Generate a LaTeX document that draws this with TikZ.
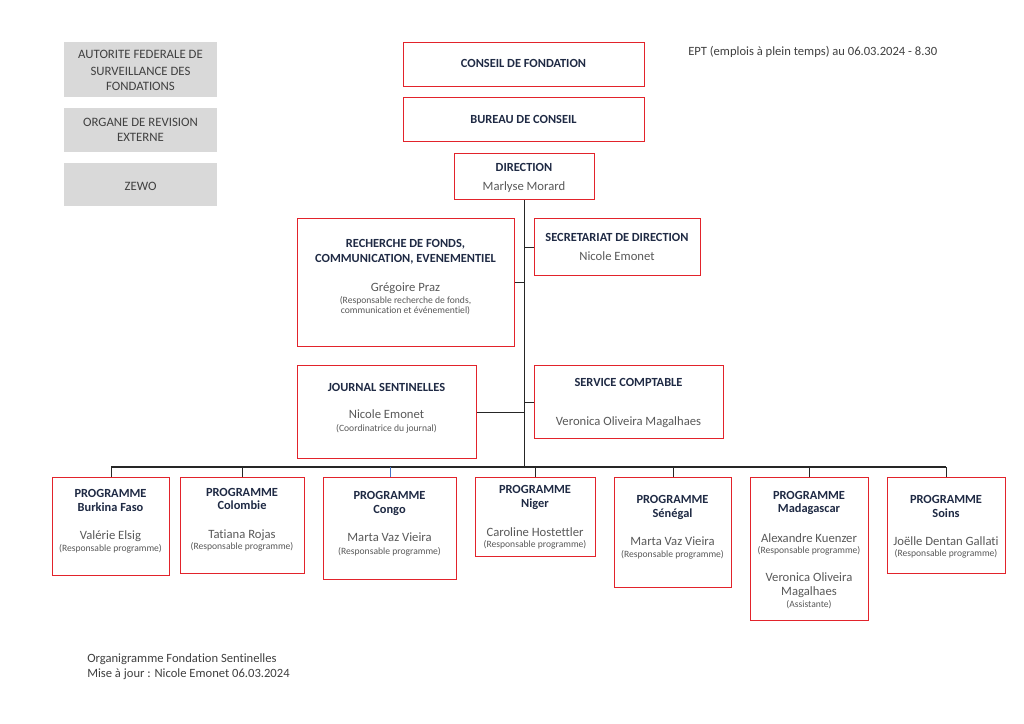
\documentclass[tikz,border=0pt]{standalone}
\usepackage{fontspec}
\setmainfont{Carlito}[Ligatures=NoCommon]
\definecolor{redb}{RGB}{226,35,43}
\definecolor{navy}{RGB}{31,42,68}
\definecolor{greyt}{RGB}{89,89,89}
\definecolor{greyf}{RGB}{217,217,217}
\definecolor{greyd}{RGB}{64,64,64}
\definecolor{bluel}{RGB}{68,114,196}
\newcommand{\rbox}[6]{\node[#6,anchor=north west,minimum width={(#4-#2)*0.75pt},minimum height={(#5-#3)*0.75pt}] (#1) at (#2,#3) {};}
\newcommand{\tx}[5]{\node[#2] (#1) at (#3,#4) {#5};}
\begin{document}
\begin{tikzpicture}[x=0.75pt,y=-0.75pt,
  redbox/.style={draw=redb,line width=1.1pt,fill=white,inner sep=0pt},
  greybox/.style={fill=greyf,draw=none,inner sep=0pt},
  hd/.style={font=\fontsize{9.3}{10}\selectfont\bfseries,text=navy,inner sep=0pt,anchor=base,yshift=-3pt},
  nm/.style={font=\fontsize{9.5}{10}\selectfont,text=greyt,inner sep=0pt,anchor=base,yshift=-3pt},
  sm/.style={font=\fontsize{7.2}{8}\selectfont,text=greyt,inner sep=0pt,anchor=base,yshift=-2.25pt},
  gr/.style={font=\fontsize{9.6}{10}\selectfont,text=greyd,inner sep=0pt,anchor=base,yshift=-3pt},
  pl/.style={font=\fontsize{9.45}{10}\selectfont,text=greyd,inner sep=0pt,anchor=base west,yshift=-3pt},
  conn/.style={draw=black!85,line width=0.9pt}]
\useasboundingbox[fill=white] (0,0) rectangle (1024,724);

% grey boxes
\rbox{g1}{64}{42}{217}{97}{greybox}
\rbox{g2}{64}{108}{217}{152}{greybox}
\rbox{g3}{64}{163}{217}{206}{greybox}
\tx{g1a}{gr}{140.5}{55}{AUTORITE FEDERALE DE}
\tx{g1b}{gr}{140.5}{71}{SURVEILLANCE DES}
\tx{g1c}{gr}{140.5}{86}{FONDATIONS}
\tx{g2a}{gr}{140.5}{123}{ORGANE DE REVISION}
\tx{g2b}{gr}{140.5}{138}{EXTERNE}
\tx{g3a}{gr}{140.5}{186}{ZEWO}

\tx{ept}{pl}{688}{52}{EPT (emplois à plein temps) au 06.03.2024 - 8.30}

% top boxes
\rbox{cf}{403}{42}{644}{86}{redbox}
\rbox{bc}{403}{97}{644}{141}{redbox}
\rbox{dir}{454}{153}{594}{199}{redbox}
\tx{cft}{hd}{523.5}{64}{CONSEIL DE FONDATION}
\tx{bct}{hd}{523.5}{119}{BUREAU DE CONSEIL}
\tx{dirt}{hd}{524}{167}{DIRECTION}
\tx{dirn}{nm}{524}{186}{Marlyse Morard}

% staff boxes
\rbox{rech}{297}{218}{514}{346}{redbox}
\rbox{sec}{534}{218}{700}{275}{redbox}
\rbox{jour}{297}{365}{476}{458}{redbox}
\rbox{serv}{534}{365}{723}{438}{redbox}
\tx{recha}{hd}{405.5}{243}{RECHERCHE DE FONDS,}
\tx{rechb}{hd}{405.5}{258}{COMMUNICATION, EVENEMENTIEL}
\tx{rechn}{nm}{405.5}{287}{Grégoire Praz}
\tx{rechr}{sm}{405.5}{300}{(Responsable recherche de fonds,}
\tx{rechs}{sm}{405.5}{310}{communication et événementiel)}
\tx{seca}{hd}{617}{237}{SECRETARIAT DE DIRECTION}
\tx{secn}{nm}{617}{256}{Nicole Emonet}
\tx{joura}{hd}{386.5}{387}{JOURNAL SENTINELLES}
\tx{journ}{nm}{386.5}{414}{Nicole Emonet}
\tx{jourr}{sm}{386.5}{428}{(Coordinatrice du journal)}
\tx{serva}{hd}{628.5}{382}{SERVICE COMPTABLE}
\tx{servn}{nm}{628.5}{421}{Veronica Oliveira Magalhaes}

% programme boxes
\rbox{p1}{52}{477}{169}{575}{redbox}
\rbox{p2}{180}{477}{304}{573}{redbox}
\rbox{p3}{323}{477}{456}{579}{redbox}
\rbox{p4}{475}{477}{595}{556}{redbox}
\rbox{p5}{614}{477}{731}{587}{redbox}
\rbox{p6}{750}{477}{868}{620}{redbox}
\rbox{p7}{887}{477}{1005}{573}{redbox}

\tx{p1a}{hd}{110.5}{493}{PROGRAMME}
\tx{p1b}{hd}{110.5}{507}{Burkina Faso}
\tx{p1n}{nm}{110.5}{535}{Valérie Elsig}
\tx{p1r}{sm}{110.5}{548}{(Responsable programme)}

\tx{p2a}{hd}{242}{492}{PROGRAMME}
\tx{p2b}{hd}{242}{505}{Colombie}
\tx{p2n}{nm}{242}{534}{Tatiana Rojas}
\tx{p2r}{sm}{242}{546}{(Responsable programme)}

\tx{p3a}{hd}{389.5}{495}{PROGRAMME}
\tx{p3b}{hd}{389.5}{509}{Congo}
\tx{p3n}{nm}{389.5}{537}{Marta Vaz Vieira}
\tx{p3r}{sm}{389.5}{551}{(Responsable programme)}

\tx{p4a}{hd}{535}{489}{PROGRAMME}
\tx{p4b}{hd}{535}{503}{Niger}
\tx{p4n}{nm}{535}{532}{Caroline Hostettler}
\tx{p4r}{sm}{535}{544}{(Responsable programme)}

\tx{p5a}{hd}{672.5}{499}{PROGRAMME}
\tx{p5b}{hd}{672.5}{513}{Sénégal}
\tx{p5n}{nm}{672.5}{541}{Marta Vaz Vieira}
\tx{p5r}{sm}{672.5}{554}{(Responsable programme)}

\tx{p6a}{hd}{809}{495}{PROGRAMME}
\tx{p6b}{hd}{809}{508}{Madagascar}
\tx{p6n}{nm}{809}{538}{Alexandre Kuenzer}
\tx{p6r}{sm}{809}{550}{(Responsable programme)}
\tx{p6m}{nm}{809}{577}{Veronica Oliveira}
\tx{p6o}{nm}{809}{591}{Magalhaes}
\tx{p6s}{sm}{809}{604}{(Assistante)}

\tx{p7a}{hd}{946}{499}{PROGRAMME}
\tx{p7b}{hd}{946}{513}{Soins}
\tx{p7n}{nm}{946}{541}{Joëlle Dentan Gallati}
\tx{p7r}{sm}{946}{553}{(Responsable programme)}

% footer
\tx{f1}{pl}{87}{658}{Organigramme Fondation Sentinelles}
\tx{f2}{pl}{87}{673}{Mise à jour : Nicole Emonet 06.03.2024}

% connectors
\coordinate (busL) at (111,467);
\coordinate (busR) at (946,467);
\draw[conn] (dir.south) -- (dir.south |- busL);
\draw[conn] (busL) -- (busR);
\draw[conn] (rech.east) -- (rech.east -| dir.south);
\draw[conn] (sec.west) -- (sec.west -| dir.south);
\draw[conn] (jour.east) -- (jour.east -| dir.south);
\draw[conn] (serv.west) -- (serv.west -| dir.south);
\draw[conn] (p1.north) -- (p1.north |- busL);
\draw[conn] (p2.north) -- (p2.north |- busL);
\draw[conn,draw=bluel] (p3.north) -- (p3.north |- busL);
\draw[conn] (p4.north) -- (p4.north |- busL);
\draw[conn] (p5.north) -- (p5.north |- busL);
\draw[conn] (p6.north) -- (p6.north |- busL);
\draw[conn] (p7.north) -- (p7.north |- busL);
\end{tikzpicture}
\end{document}
